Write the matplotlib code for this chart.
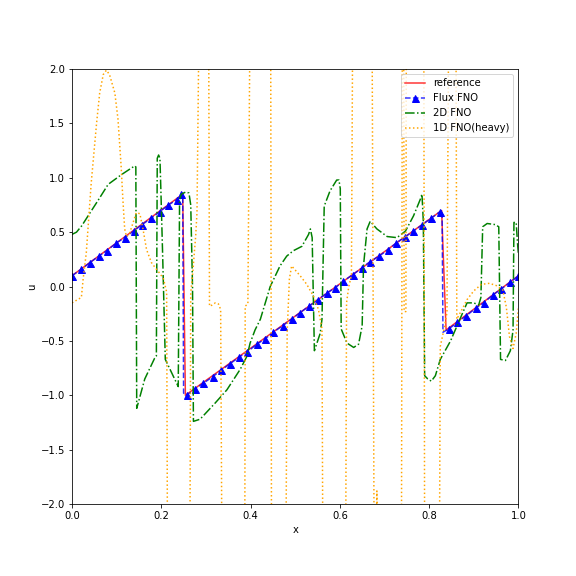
import numpy as np
import matplotlib
matplotlib.use("Agg")
import matplotlib.pyplot as plt

# reference solution (piecewise linear with two shocks)
ref_x = [0.0, 0.248, 0.254, 0.828, 0.838, 1.0]
ref_u = [0.10, 0.85, -1.00, 0.70, -0.40, 0.10]

# Flux FNO (marker positions)
flux_x = [0.000, 0.021, 0.040, 0.060, 0.078, 0.099, 0.118, 0.138, 0.157, 0.178,
          0.197, 0.216, 0.235, 0.244,
          0.257, 0.276, 0.294, 0.315, 0.334, 0.354, 0.374, 0.393, 0.414, 0.433,
          0.451, 0.472, 0.492, 0.511, 0.531, 0.551, 0.571, 0.590, 0.608, 0.629,
          0.649, 0.668, 0.688, 0.708, 0.726, 0.747, 0.765, 0.785, 0.805, 0.825,
          0.844, 0.863, 0.883, 0.904, 0.922, 0.942, 0.962, 0.982, 1.000]
flux_u = [0.10, 0.16, 0.22, 0.28, 0.33, 0.40, 0.45, 0.51, 0.57, 0.63,
          0.69, 0.75, 0.80, 0.85,
          -1.00, -0.94, -0.89, -0.83, -0.77, -0.71, -0.65, -0.60, -0.53, -0.48,
          -0.42, -0.36, -0.30, -0.24, -0.18, -0.12, -0.06, -0.01, 0.05, 0.11,
          0.17, 0.23, 0.28, 0.34, 0.40, 0.46, 0.51, 0.57, 0.63, 0.69,
          -0.39, -0.33, -0.27, -0.20, -0.15, -0.08, -0.02, 0.04, 0.10]
# shock corners of the Flux FNO line (no marker there)
flux_shock_x = [0.248, 0.250, 0.829, 0.831]
flux_shock_u = [0.86, -0.98, 0.70, -0.42]

# 2D FNO
fno2d_x = [0.000, 0.010, 0.022, 0.036, 0.058, 0.081, 0.111, 0.133, 0.141, 0.143,
           0.145, 0.163, 0.185, 0.189, 0.191, 0.194, 0.197, 0.199, 0.203, 0.209,
           0.238, 0.241, 0.245, 0.255, 0.262, 0.266, 0.270, 0.272, 0.287, 0.321,
           0.347, 0.377, 0.392, 0.399, 0.410, 0.422, 0.444, 0.466, 0.481, 0.496,
           0.515, 0.530, 0.534, 0.538, 0.543, 0.556, 0.560, 0.565, 0.578, 0.593,
           0.598, 0.601, 0.603, 0.616, 0.631, 0.642, 0.650, 0.653, 0.661, 0.668,
           0.683, 0.706, 0.728, 0.747, 0.765, 0.780, 0.784, 0.787, 0.790, 0.797,
           0.805, 0.814, 0.825, 0.848, 0.870, 0.885, 0.900, 0.911, 0.916, 0.920,
           0.930, 0.948, 0.956, 0.960, 0.971, 0.982, 0.988, 0.990, 0.995, 0.998,
           1.000]
fno2d_u = [0.48, 0.50, 0.56, 0.65, 0.79, 0.94, 1.03, 1.09, 1.11, 1.10,
           -1.12, -0.85, -0.66, -0.64, 1.18, 1.21, 1.18, 0.90, 0.30, -0.67,
           -0.92, 0.80, 0.85, 0.87, 0.86, 0.75, 0.00, -1.24, -1.22, -1.07,
           -0.95, -0.76, -0.64, -0.52, -0.40, -0.30, 0.00, 0.19, 0.28, 0.33,
           0.37, 0.48, 0.53, 0.45, -0.59, -0.43, -0.30, 0.74, 0.88, 0.98,
           0.98, 0.90, -0.39, -0.52, -0.56, -0.53, -0.36, 0.19, 0.53, 0.60,
           0.53, 0.46, 0.45, 0.51, 0.65, 0.80, 0.85, 0.60, -0.82, -0.85,
           -0.87, -0.82, -0.67, -0.50, -0.29, -0.15, -0.15, -0.17, -0.10, 0.55,
           0.58, 0.57, 0.55, -0.67, -0.68, -0.59, -0.40, 0.59, 0.59, 0.40,
           0.30]

# 1D FNO (heavy) - goes far outside the plotted range
fno1d_x = [0.000, 0.021, 0.025, 0.032, 0.043, 0.055, 0.062, 0.070, 0.077, 0.084,
           0.096, 0.103, 0.110, 0.114, 0.118, 0.122, 0.129, 0.137, 0.144, 0.152,
           0.159, 0.167, 0.178, 0.189, 0.197, 0.205, 0.212, 0.214,
           0.264, 0.266, 0.271, 0.274, 0.277, 0.280, 0.285,
           0.306, 0.308, 0.314, 0.321, 0.328, 0.333, 0.336,
           0.387, 0.388, 0.394, 0.399,
           0.445, 0.447,
           0.479, 0.482, 0.487, 0.492, 0.511, 0.526, 0.541, 0.552, 0.560, 0.562,
           0.613, 0.615, 0.620, 0.626, 0.629,
           0.672, 0.677, 0.681, 0.683, 0.686,
           0.738, 0.740, 0.743, 0.744, 0.748, 0.749,
           0.788, 0.790,
           0.823, 0.825, 0.833, 0.840, 0.844,
           0.860, 0.862, 0.875, 0.885, 0.900, 0.917, 0.935, 0.950, 0.965, 0.973,
           0.980, 0.988, 0.995, 1.000]
fno1d_u = [-0.15, -0.10, 0.07, 0.31, 0.95, 1.50, 1.78, 1.95, 1.99, 1.95,
           1.78, 1.54, 1.11, 0.80, 0.53, 0.46, 0.49, 0.59, 0.68, 0.67,
           0.53, 0.34, 0.22, 0.16, 0.12, 0.07, -0.05, -2.6,
           -2.6, -0.06, 0.15, 0.31, 0.46, 0.68, 2.6,
           2.6, -0.18, -0.17, -0.15, -0.16, -0.21, -2.6,
           -2.6, -0.18, -0.16, 2.6,
           2.6, -2.6,
           -2.6, -0.42, 0.07, 0.19, 0.10, 0.02, -0.09, -0.21, -0.39, -2.6,
           -2.6, -0.15, 0.00, 0.10, 2.6,
           2.6, -2.6, -2.6, -1.88, -2.6,
           -2.6, 2.6, 2.6, -0.23, -0.23, 2.6,
           2.6, -2.6,
           -2.6, -0.55, -0.40, -0.24, 2.6,
           2.6, -0.30, -0.20, -0.12, -0.04, 0.02, 0.03, 0.01, -0.03, -0.19,
           -0.46, -0.57, -0.43, -0.20]

# merge marker points and shock corners, markers only on the real points
fx = np.array(flux_x + flux_shock_x)
fu = np.array(flux_u + flux_shock_u)
order = np.argsort(fx, kind='stable')
fx, fu = fx[order], fu[order]
marks = [i for i, k in enumerate(order) if k < len(flux_x)]

fig = plt.figure(figsize=(8, 8), dpi=72)
plt.subplots_adjust(bottom=0.125)
plt.plot(ref_x, ref_u, color=(1, 0, 0, 0.8), label='reference')
plt.plot(fx, fu, '--^', color=(0, 0, 1, 0.8), markerfacecolor='b',
         markeredgecolor='b', markersize=7, markevery=marks, label='Flux FNO')
plt.plot(fno2d_x, fno2d_u, 'g-.', label='2D FNO')
plt.plot(fno1d_x, fno1d_u, ':', color='orange', label='1D FNO(heavy)')

plt.xlim([0, 1])
plt.ylim([-2, 2])
plt.xlabel('x')
plt.ylabel('u')
plt.legend(loc='upper right')
plt.savefig('out.png', dpi=72)
